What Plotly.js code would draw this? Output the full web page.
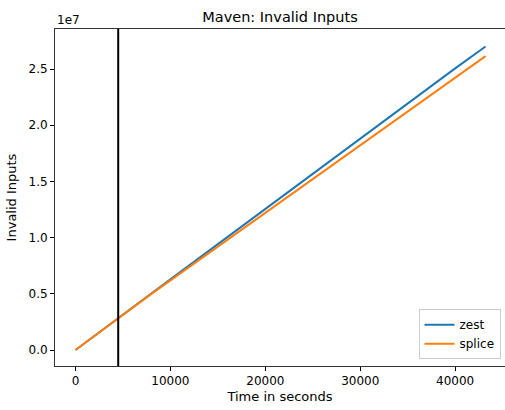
<!DOCTYPE html>
<html><head><meta charset="utf-8">
<script src="https://cdn.plot.ly/plotly-3.0.1.min.js"></script>
<style>body{margin:0;padding:0;background:#fff}#chart{width:505px;height:410px}</style>
</head><body><div id="chart"></div>
<script>
const timeSec = [0, 2000, 4000, 6000, 8000, 10000, 15000, 20000, 25000, 30000, 35000, 40000, 43200];
const zestInvalid = [0, 1.27e6, 2.53e6, 3.8e6, 5.05e6, 6.3e6, 9.42e6, 12.56e6, 15.7e6, 18.84e6, 21.96e6, 25.06e6, 27.0e6];
const spliceInvalid = [0, 1.27e6, 2.53e6, 3.78e6, 5.0e6, 6.2e6, 9.2e6, 12.2e6, 15.2e6, 18.2e6, 21.2e6, 24.2e6, 26.15e6];
const markerTime = 4500;
const yTickVals = [0, 5e6, 10e6, 15e6, 20e6, 25e6];
const yTickText = ['0.0', '0.5', '1.0', '1.5', '2.0', '2.5'];
const xTickVals = [0, 10000, 20000, 30000, 40000];
const xTickText = ['0', '10000', '20000', '30000', '40000'];

const traces = [
  {x: timeSec, y: zestInvalid, name: 'zest', mode: 'lines', line: {color: '#1f77b4', width: 2}},
  {x: timeSec, y: spliceInvalid, name: 'splice', mode: 'lines', line: {color: '#ff7f0e', width: 2}}
];
const font = {family: 'DejaVu Sans', size: 12, color: '#000'};
const labelFont = {family: 'DejaVu Sans', size: 13, color: '#000'};
const layout = {
  width: 505, height: 410,
  margin: {l: 55, r: 0, t: 29, b: 44},
  paper_bgcolor: '#fff', plot_bgcolor: '#fff',
  font: font,
  showlegend: true,
  title: {text: 'Maven: Invalid Inputs', font: {family: 'DejaVu Sans', size: 14.5, color: '#000'}, x: 0.5, xanchor: 'center', y: 0.958, yanchor: 'middle', xref: 'paper'},
  xaxis: {
    range: [-2160, 45250], showgrid: false, zeroline: false,
    tickvals: xTickVals, ticktext: xTickText, ticks: 'outside', ticklen: 4, tickcolor: '#000',
    showline: true, linecolor: '#333', linewidth: 1, mirror: true,
    tickfont: font,
    title: {text: 'Time in seconds', font: labelFont, standoff: 4}
  },
  yaxis: {
    range: [-1.42e6, 2.856e7], showgrid: false, zeroline: false,
    tickvals: yTickVals, ticktext: yTickText, ticks: 'outside', ticklen: 4, tickcolor: '#000',
    showline: true, linecolor: '#333', linewidth: 1, mirror: true,
    tickfont: font,
    title: {text: 'Invalid Inputs', font: labelFont, standoff: 8}
  },
  legend: {x: 0.99, y: 0.02, xanchor: 'right', yanchor: 'bottom', bordercolor: '#ccc', borderwidth: 1, bgcolor: 'rgba(255,255,255,0.8)', font: {family: 'DejaVu Sans', size: 12, color: '#000'}, tracegroupgap: 0, itemwidth: 30},
  shapes: [{type: 'line', xref: 'x', yref: 'paper', x0: markerTime, x1: markerTime, y0: 0, y1: 1, line: {color: '#000', width: 2}}],
  annotations: [{text: '1e7', xref: 'paper', yref: 'paper', x: 0, y: 1, xanchor: 'left', yanchor: 'bottom', showarrow: false, font: font, yshift: 0}]
};
Plotly.newPlot('chart', traces, layout, {displayModeBar: false});
</script></body></html>
